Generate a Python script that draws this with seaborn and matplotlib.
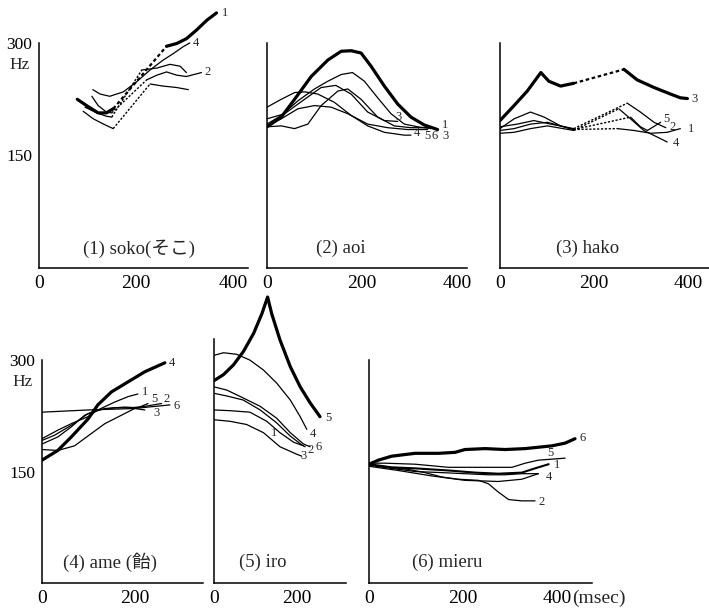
import matplotlib
matplotlib.use("Agg")
import matplotlib.pyplot as plt
from matplotlib.ticker import NullLocator
import seaborn as sns

sns.set_style("white")
plt.rcParams['font.family'] = ['Liberation Serif', 'Noto Sans CJK JP']

# ---------------- data: curve -> solid segments (msec, Hz); gaps are dotted ----------------
SOKO = {
    "1": [([79, 98, 122, 139, 153], [212, 204, 195, 195, 200]),
          ([263, 284, 304, 325, 346, 366], [294, 299, 308, 325, 345, 361])],
    "2": [([109, 122, 139, 150], [216, 204, 196, 195]),
          ([222, 243, 263, 284, 304, 335], [239, 246, 251, 246, 244, 250])],
    "3": [([91, 112, 133, 153], [197, 188, 182, 177]),
          ([229, 256, 284, 308], [233, 230, 228, 225])],
    "4": [([111, 126, 146, 174, 201, 229, 256, 277, 297, 311],
           [225, 219, 216, 222, 236, 254, 270, 281, 293, 300])],
    "5": [([95, 119, 139, 150], [202, 195, 191, 190]),
          ([212, 243, 270, 291, 304], [254, 257, 263, 260, 250])],
}
AOI = {
    "1": [([0, 30, 58, 93, 128, 156, 177, 198, 219, 247, 275, 303, 331, 359],
           [179, 190, 212, 244, 270, 285, 286, 282, 260, 230, 206, 190, 181, 176])],
    "2": [([0, 30, 65, 100, 128, 156, 180, 205, 233, 261, 289, 317, 345],
           [182, 192, 210, 226, 237, 247, 250, 237, 214, 194, 182, 179, 177])],
    "3": [([0, 37, 79, 114, 145, 177, 212, 247, 275],
           [188, 194, 212, 228, 231, 219, 196, 186, 185])],
    "4": [([0, 30, 58, 79, 107, 142, 177, 212, 247, 289, 303],
           [202, 212, 221, 222, 219, 208, 192, 180, 173, 170, 170])],
    "5": [([0, 30, 65, 100, 135, 170, 212, 254, 296, 338],
           [180, 188, 200, 204, 202, 194, 182, 178, 176, 176])],
    "6": [([0, 30, 58, 86, 114, 149, 170, 198, 233, 268, 303, 338],
           [179, 180, 177, 182, 204, 223, 226, 212, 190, 180, 178, 178])],
}
HAKO = {
    "3": [([0, 30, 58, 87, 104, 129, 157], [186, 204, 223, 250, 237, 230, 234]),
          ([264, 292, 328, 363, 384, 399], [255, 239, 228, 219, 214, 213])],
    "1": [([0, 30, 65, 101, 129, 157], [175, 177, 182, 184, 180, 176]),
          ([250, 285, 321, 356, 384], [177, 175, 172, 173, 177])],
    "2": [([0, 37, 72, 108, 157], [179, 182, 186, 182, 177]),
          ([271, 299, 328, 353], [207, 196, 184, 178])],
    "4": [([0, 30, 65, 101, 157], [172, 173, 177, 180, 175]),
          ([253, 278, 306, 335, 356], [200, 188, 175, 168, 163])],
    "5": [([0, 30, 65, 94, 129, 157], [177, 188, 196, 190, 180, 176]),
          ([278, 299, 314, 342], [190, 179, 175, 184])],
}
AME = {
    "4": [([0, 34, 63, 99, 120, 149, 185, 221, 264], [161, 171, 186, 208, 227, 246, 262, 279, 295])],
    "1": [([0, 34, 63, 99, 120, 156, 185, 206], [184, 194, 202, 211, 220, 231, 239, 243])],
    "3": [([0, 34, 70, 106, 135, 171, 199, 221], [172, 171, 176, 190, 202, 213, 222, 220])],
    "2": [([0, 34, 63, 92, 120, 156, 192, 221, 257], [178, 186, 198, 213, 220, 223, 223, 225, 229])],
    "5": [([0, 27, 63, 99, 135, 178, 206, 228], [182, 188, 200, 215, 222, 224, 223, 229])],
    "6": [([0, 99, 199, 228, 275], [217, 220, 222, 224, 227])],
}
IRO = {
    "5": [([0, 23, 47, 71, 96, 116, 130, 140, 160, 185, 209, 233, 257],
           [264, 274, 291, 316, 354, 400, 444, 400, 340, 288, 254, 230, 211])],
    "4": [([0, 23, 55, 87, 120, 152, 185, 209, 225], [309, 314, 311, 300, 282, 260, 234, 211, 195])],
    "6": [([0, 31, 71, 112, 152, 185, 217, 233], [254, 249, 237, 225, 209, 191, 178, 175])],
    "2": [([0, 31, 71, 112, 152, 185, 213, 221], [244, 240, 234, 220, 203, 187, 177, 175])],
    "1": [([0, 39, 87, 128, 160, 193, 217], [220, 219, 217, 205, 191, 180, 176])],
    "3": [([0, 39, 79, 120, 160, 201, 213], [207, 205, 201, 191, 175, 167, 165])],
}
MIERU = {
    "6": [([0, 20, 48, 98, 148, 183, 204, 247, 289, 332, 389, 417, 438],
           [157, 161, 165, 168, 168, 169, 172, 173, 172, 173, 176, 179, 184])],
    "5": [([0, 34, 98, 169, 240, 304, 332, 360, 417], [158, 158, 157, 154, 154, 154, 158, 161, 163])],
    "1": [([0, 48, 98, 169, 226, 275, 325, 353, 382], [157, 154, 153, 151, 149, 148, 149, 153, 157])],
    "4": [([0, 48, 98, 155, 204, 254, 289, 325, 360], [156, 153, 150, 149, 148, 147, 147, 148, 148])],
    "2": [([0, 34, 84, 119, 155, 190, 233, 254, 275, 297, 325, 353],
           [157, 154, 152, 149, 145, 143, 142, 139, 132, 126, 125, 125])],
    "3": [([0, 62, 133, 204, 275, 325, 360], [155, 151, 146, 142, 141, 143, 148])],
}

TITLES = ["(1) soko(そこ)", "(2) aoi", "(3) hako", "(4) ame (飴)", "(5) iro", "(6) mieru"]
Y_TICKS = [150, 300]
X_TICKS = [0, 200, 400]

# curve-number labels: (text, msec, Hz)
LABELS = [
    [("1", 377, 361), ("4", 318, 300), ("2", 342, 251)],
    [("3", 271, 190), ("1", 369, 181), ("4", 308, 172), ("5", 331, 169), ("6", 347, 169), ("3", 369, 169)],
    [("3", 408, 213), ("5", 348, 188), ("2", 361, 179), ("1", 400, 177), ("4", 368, 162)],
    [("4", 272, 295), ("1", 215, 246), ("5", 235, 235), ("2", 262, 235), ("6", 283, 226), ("3", 240, 216)],
    [("5", 269, 209), ("4", 233, 190), ("6", 247, 175), ("2", 227, 172), ("3", 210, 165), ("1", 138, 191)],
    [("6", 447, 185), ("5", 380, 168), ("1", 393, 156), ("4", 376, 145), ("2", 360, 124)],
]

# ---------------- layout / styles ----------------
PANELS = [
    dict(data=SOKO, thick={"1"}, rect=[0.0550, 0.5621, 0.2948, 0.4297], xlim=431, ylim=(75, 379),
         spine_top=300, ylab=True, xt=[0, 200, 400], title_xy=(0.48, 0.075)),
    dict(data=AOI, thick={"1"}, rect=[0.3766, 0.5621, 0.2821, 0.4297], xlim=421, ylim=(75, 379),
         spine_top=300, ylab=False, xt=[0, 200, 400], title_xy=(0.37, 0.075)),
    dict(data=HAKO, thick={"3"}, rect=[0.7052, 0.5621, 0.2948, 0.4297], xlim=445, ylim=(75, 379),
         spine_top=300, ylab=False, xt=[0, 200, 400], title_xy=(0.42, 0.075)),
    dict(data=AME, thick={"4"}, rect=[0.0592, 0.0474, 0.2271, 0.4788], xlim=346, ylim=(75, 464),
         spine_top=300, ylab=True, xt=[0, 200], title_xy=(0.42, 0.07)),
    dict(data=IRO, thick={"5"}, rect=[0.3018, 0.0474, 0.1862, 0.4788], xlim=320, ylim=(75, 464),
         spine_top=342, ylab=False, xt=[0, 200], title_xy=(0.37, 0.07)),
    dict(data=MIERU, thick={"6"}, rect=[0.5204, 0.0474, 0.3145, 0.4788], xlim=474, ylim=(75, 464),
         spine_top=300, ylab=False, xt=[0, 200, 400], title_xy=(0.35, 0.07)),
]

fig = plt.figure(figsize=(7.09, 6.12), dpi=100)
fig.patch.set_facecolor("white")

for i, p in enumerate(PANELS):
    ax = fig.add_axes(p["rect"])
    ax.set_facecolor("none")
    ax.set_yscale("log", base=2)
    for name, segs in p["data"].items():
        thick = name in p["thick"]
        lw = 2.3 if thick else 0.9
        if i == 5 and name == "1":
            lw = 1.5
        for k, (ms, hz) in enumerate(segs):
            sns.lineplot(x=ms, y=hz, ax=ax, color="black", lw=lw, sort=False, estimator=None)
            if k + 1 < len(segs):
                nms, nhz = segs[k + 1]
                sns.lineplot(x=[ms[-1], nms[0]], y=[hz[-1], nhz[0]], ax=ax, color="black",
                             lw=1.6 if thick else 1.0, linestyle=(0, (1.6, 1.2)),
                             sort=False, estimator=None)
    for txt, x, y in LABELS[i]:
        ax.text(x, y, txt, fontsize=9, ha="left", va="center")

    ax.set_xlim(0, p["xlim"])
    ax.set_ylim(*p["ylim"])
    for s in ("top", "right"):
        ax.spines[s].set_visible(False)
    ax.spines["left"].set_bounds(75, p["spine_top"])
    ax.spines["left"].set_linewidth(1.1)
    ax.spines["bottom"].set_linewidth(1.1)
    ax.spines["left"].set_color("black")
    ax.spines["bottom"].set_color("black")

    ax.set_yticks(Y_TICKS)
    ax.yaxis.set_minor_locator(NullLocator())
    if p["ylab"]:
        ax.set_yticklabels([str(v) for v in Y_TICKS])
        ax.annotate("Hz", xy=(0, 300), xycoords="data", xytext=(-14, -16),
                    textcoords="offset points", ha="center", va="center", fontsize=12.5)
    else:
        ax.set_yticklabels([])
    ax.set_xticks(p["xt"])
    ax.xaxis.set_minor_locator(NullLocator())
    ax.set_xticklabels([str(v) for v in p["xt"]])
    ax.tick_params(axis="y", direction="out", length=4.5, width=1, labelsize=12.5, pad=0.5,
                   colors="black")
    ax.tick_params(axis="x", direction="in", length=3, width=1, labelsize=14, pad=5,
                   colors="black")
    ax.set_xlabel("")
    ax.set_ylabel("")
    ax.text(p["title_xy"][0], p["title_xy"][1], TITLES[i], transform=ax.transAxes,
            ha="center", va="center", fontsize=13.5)
    if i == 5:
        ax.annotate("(msec)", xy=(400, 0), xycoords=("data", "axes fraction"),
                    xytext=(10.5, -5), textcoords="offset points", ha="left", va="top",
                    fontsize=14)

fig.savefig("out.png", dpi=100, facecolor="white")
